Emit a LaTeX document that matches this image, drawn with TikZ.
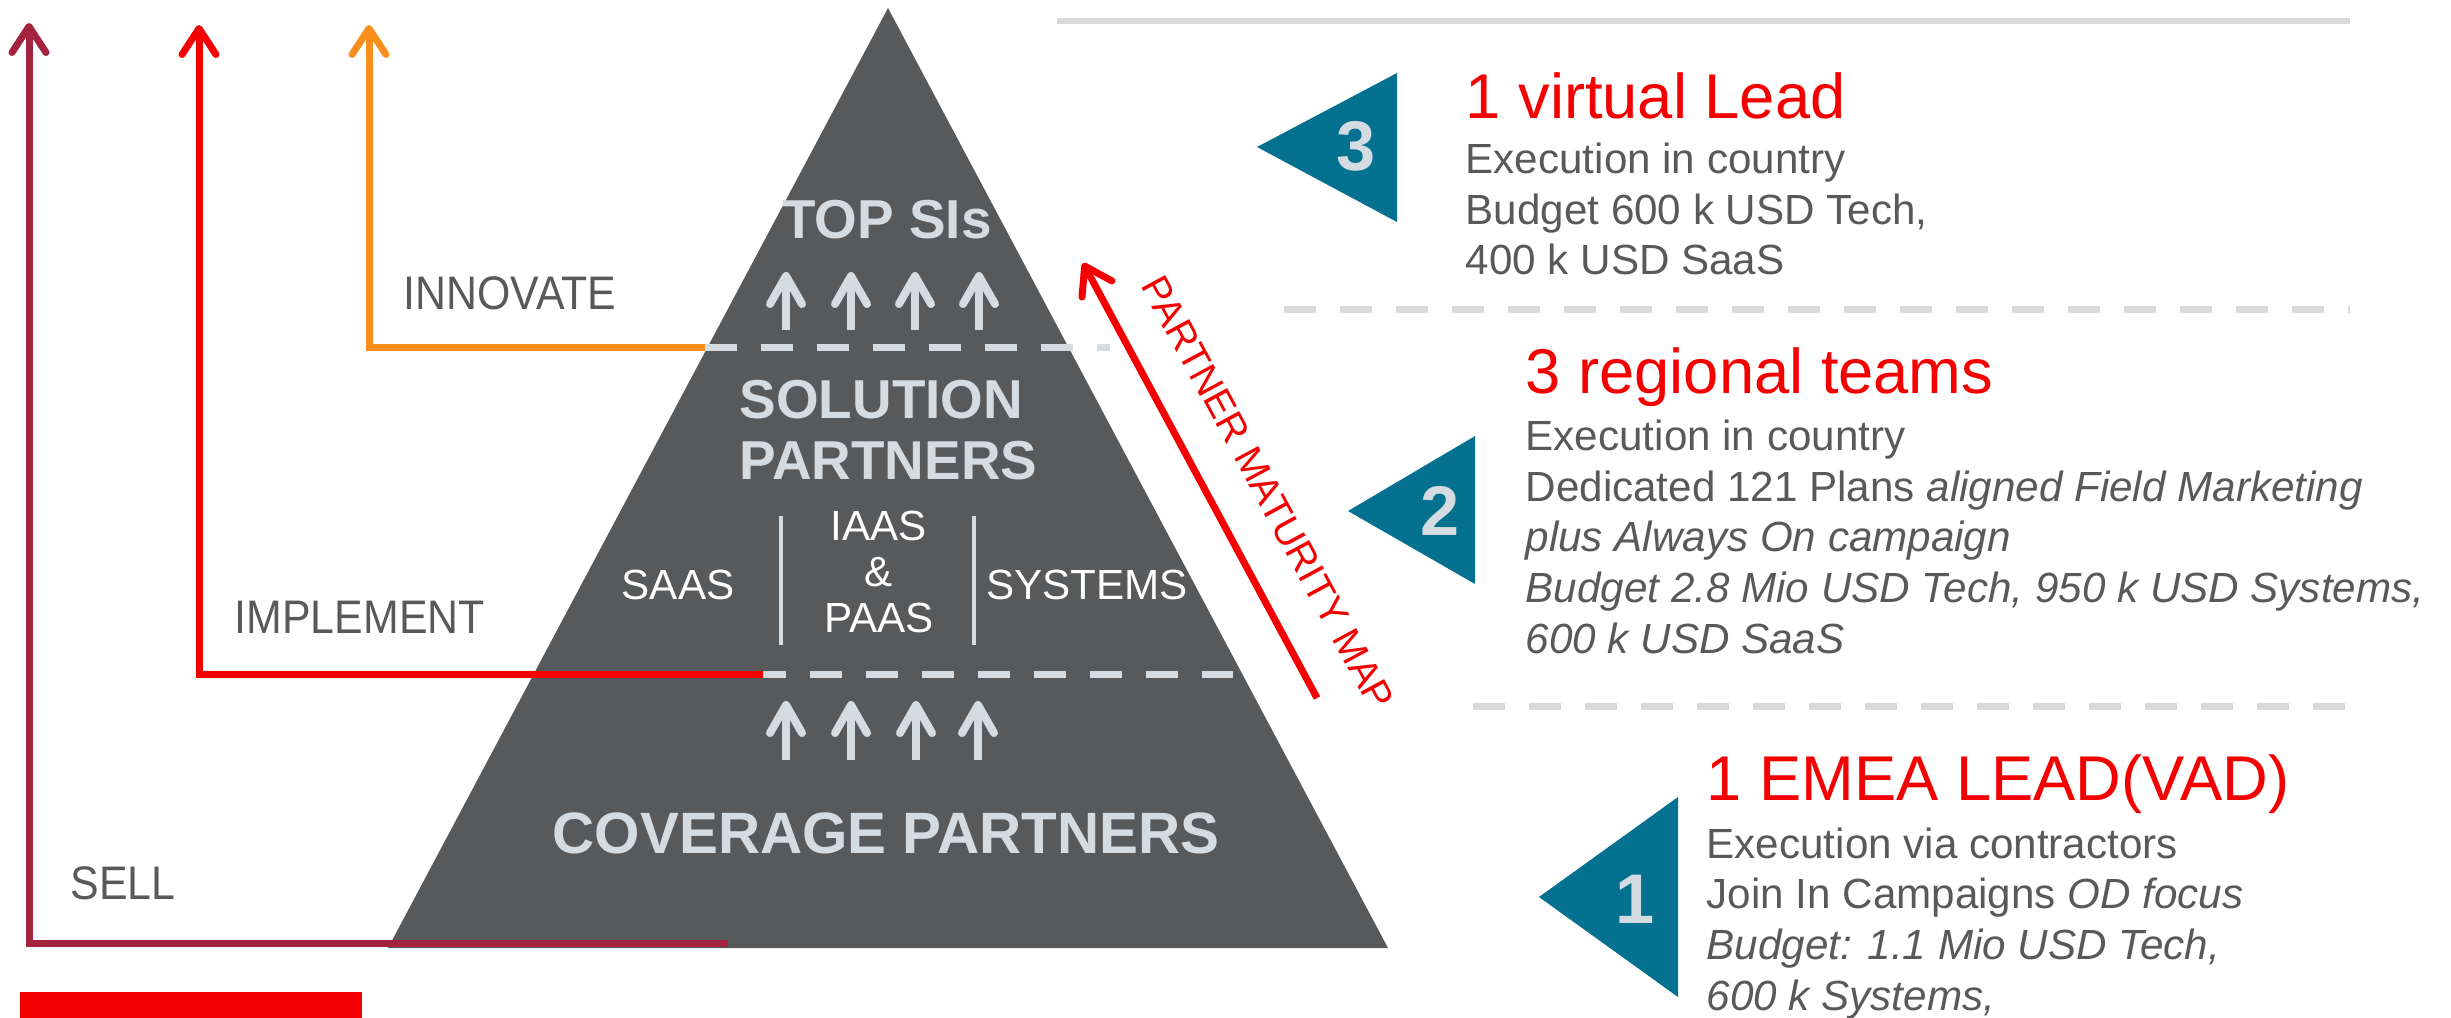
\documentclass[tikz,border=0pt]{standalone}
\usepackage{fontspec}
\setmainfont{Liberation Sans}
\newfontfamily\schmal[FakeStretch=0.91]{Liberation Sans}
\usetikzlibrary{arrows.meta,positioning}

\definecolor{pyramide}{HTML}{58595B}
\definecolor{hell}{HTML}{D5DCE1}
\definecolor{schrift}{HTML}{595959}
\definecolor{trennlinie}{HTML}{D9D9D9}
\definecolor{weinrot}{HTML}{A4233F}
\definecolor{signalrot}{HTML}{F50000}
\definecolor{orangegelb}{HTML}{FA8F1E}
\definecolor{petrol}{HTML}{03718F}

\begin{document}
\begin{tikzpicture}[%show background rectangle,
        x=0.1mm, y=-0.1mm, % Raster in Pixeln, y nach unten
        weg/.style={line width=0.7mm, -{Straight Barb[length=2.6mm,width=3.4mm,round]}},
        pfeil/.style={hell, line width=0.8mm, -{Straight Barb[length=2.8mm,width=3.2mm,round]}},
        gestrichelt/.style={line width=0.7mm, dash pattern=on 3.2mm off 2.4mm},
        stufe/.style={inner sep=0pt, text=hell, font=\bfseries\fontsize{15.6}{17.4}\selectfont},
        segment/.style={inner sep=0pt, text=white, font=\fontsize{12}{13.1}\selectfont},
        etikett/.style={inner sep=0pt, anchor=west, text=schrift, font=\schmal\fontsize{13.4}{15}\selectfont},
        nummer/.style={inner sep=0pt, text=hell, font=\bfseries\fontsize{20}{22}\selectfont},
        kopf/.style={inner sep=0pt, anchor=base west, text=signalrot, font=\fontsize{18}{21}\selectfont},
        zeile/.style={inner sep=0pt, anchor=base west, text=schrift, font=\fontsize{12}{14.5}\selectfont}
        ]
            \useasboundingbox (0,0) rectangle (2451,1018);

            % Pyramide
            \fill[pyramide] (888,8) -- (1388,948) -- (388,948) -- cycle;

            % Stufengrenzen
            \draw[gestrichelt, hell] (705,347) -- (1110,347);
            \draw[gestrichelt, hell, dash phase=0.9mm] (763,674) -- (1233,674);
            \draw[hell, line width=0.45mm] (781,516) -- (781,645)
                                           (974,516) -- (974,645);

            % Pfeile in der Pyramide
            \foreach \x in {786,851,915,979}
                \draw[pfeil] (\x,330) -- (\x,272);
            \foreach \x in {786,851,916,978}
                \draw[pfeil] (\x,760) -- (\x,701);

            % Stufen
            \node[stufe] (top) at (887,220) {TOP SIs};
            \node[stufe, align=left, anchor=west] (loesung) at (739,430) {SOLUTION\\PARTNERS};
            \node[stufe, font=\bfseries\fontsize{16.6}{18}\selectfont] (abdeckung) at (886,833) {COVERAGE PARTNERS};
            \node[segment] (saas) at (678,585) {SAAS};
            \node[segment, align=center] (iaas) at (879,572) {IAAS\\\&\\PAAS};
            \node[segment] (systems) at (1087,585) {SYSTEMS};

            % Wege nach oben
            \coordinate (sellFuss) at (728,943);
            \coordinate (sellSpitze) at (29,23);
            \coordinate (implFuss) at (763,674);
            \coordinate (implSpitze) at (199,25);
            \coordinate (innoFuss) at (705,347);
            \coordinate (innoSpitze) at (369,25);
            \draw[weg, weinrot] (sellFuss) -| (sellSpitze);
            \draw[weg, signalrot] (implFuss) -| (implSpitze);
            \draw[weg, orangegelb] (innoFuss) -| (innoSpitze);

            \node[etikett] (innovate) at (403,293) {INNOVATE};
            \node[etikett] (implement) at (234,617) {IMPLEMENT};
            \node[etikett] (sell) at (70,883) {SELL};

            \fill[signalrot] (20,992) rectangle (362,1018);

            % Reifegrad
            \coordinate (reifeFuss) at (1317,698);
            \coordinate (reifeSpitze) at (1083,263);
            \draw[weg, signalrot] (reifeFuss) -- (reifeSpitze);
            \node[inner sep=0pt, rotate=-61.6, text=signalrot,
                  font=\fontsize{11.1}{13}\selectfont] (reife) at (1268,493) {PARTNER MATURITY MAP};

            % Rechte Spalte
            \draw[trennlinie, line width=0.6mm] (1057,21) -- (2350,21);
            \draw[gestrichelt, trennlinie] (1284,309) -- (2350,309)
                                           (1473,706) -- (2346,706);

            \fill[petrol] (1257,147) -- (1397,73) -- (1397,222) -- cycle;
            \fill[petrol] (1348,511) -- (1475,436) -- (1475,584) -- cycle;
            \fill[petrol] (1539,897) -- (1678,797) -- (1678,997) -- cycle;
            \node[nummer] (n3) at (1356,146) {3};
            \node[nummer] (n2) at (1440,511) {2};
            \node[nummer] (n1) at (1635,899) {1};

            \node[kopf] (k3) at (1465,118) {1 virtual Lead};
            \node[zeile] (z31) at (1465,173) {Execution in country};
            \node[zeile] (z32) at (1465,224) {Budget 600 k USD Tech,};
            \node[zeile] (z33) at (1465,274) {400 k USD SaaS};

            \node[kopf] (k2) at (1525,393) {3 regional teams};
            \node[zeile] (z21) at (1525,450) {Execution in country};
            \node[zeile] (z22) at (1525,501) {Dedicated 121 Plans \textit{aligned Field Marketing}};
            \node[zeile] (z23) at (1525,551) {\textit{plus Always On campaign}};
            \node[zeile] (z24) at (1525,602) {\textit{Budget 2.8 Mio USD Tech, 950 k USD Systems,}};
            \node[zeile] (z25) at (1525,653) {\textit{600 k USD SaaS}};

            \node[kopf] (k1) at (1706,800) {1 EMEA LEAD(VAD)};
            \node[zeile] (z11) at (1706,858) {Execution via contractors};
            \node[zeile] (z12) at (1706,908) {Join In Campaigns \textit{OD focus}};
            \node[zeile] (z13) at (1706,959) {\textit{Budget: 1.1 Mio USD Tech,}};
            \node[zeile] (z14) at (1706,1010) {\textit{600 k Systems,}};

        \end{tikzpicture}
\end{document}
